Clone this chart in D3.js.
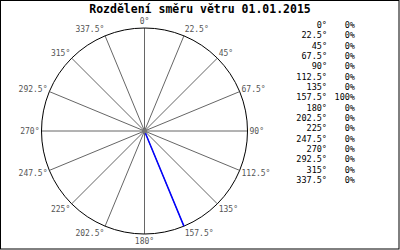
<!DOCTYPE html>
<html>
<head>
<meta charset="utf-8" />
<title>Rozdělení směru větru</title>
<script src="https://d3js.org/d3.v7.min.js"></script>
<style>
  body { margin: 0; background: #fff; }
  text { font-family: "DejaVu Sans Mono", "Liberation Mono", monospace; }
</style>
</head>
<body>
<div id="chart"></div>
<script>
// data
var title = "Rozdělení směru větru 01.01.2015";
var directions = [0, 22.5, 45, 67.5, 90, 112.5, 135, 157.5, 180, 202.5, 225, 247.5, 270, 292.5, 315, 337.5];
var dirLabels = ["0°", "22.5°", "45°", "67.5°", "90°", "112.5°", "135°", "157.5°", "180°", "202.5°", "225°", "247.5°", "270°", "292.5°", "315°", "337.5°"];
var percents = [0, 0, 0, 0, 0, 0, 0, 100, 0, 0, 0, 0, 0, 0, 0, 0];

var W = 400, H = 250;
var cx = 144.5, cy = 131, R = 103;

var svg = d3.select("#chart").append("svg").attr("width", W).attr("height", H);

// frame
svg.append("rect").attr("x", 0.5).attr("y", 0.5).attr("width", W - 1.5).attr("height", H - 1.5)
  .attr("fill", "#fff").attr("stroke", "#000").attr("stroke-width", 1);

svg.append("text").attr("x", 200).attr("y", 13).attr("text-anchor", "middle")
  .attr("font-size", "11.5px").attr("font-weight", "bold").attr("fill", "#000").text(title);

var rScale = d3.scaleLinear().domain([0, 100]).range([0, R]);
var ang = d3.scaleLinear().domain([0, 360]).range([0, 2 * Math.PI]);

function px(a, v) { return cx + rScale(v) * Math.sin(ang(a)); }
function py(a, v) { return cy - rScale(v) * Math.cos(ang(a)); }

var g = svg.append("g");

// spokes
g.selectAll("line.spoke").data(directions).enter().append("line")
  .attr("class", "spoke")
  .attr("x1", cx).attr("y1", cy)
  .attr("x2", function(d) { return px(d, 100); })
  .attr("y2", function(d) { return py(d, 100); })
  .attr("stroke", "#666").attr("stroke-width", 1);

// outer circle
g.append("circle").attr("cx", cx).attr("cy", cy).attr("r", rScale(100))
  .attr("fill", "none").attr("stroke", "#000").attr("stroke-width", 1);

// direction labels
g.selectAll("text.dir").data(directions).enter().append("text")
  .attr("class", "dir")
  .attr("x", function(d) { var s = Math.sin(ang(d)); return px(d, 100) + (Math.abs(s) < 0.01 ? 0 : s * 2); })
  .attr("y", function(d) { return py(d, 100) - Math.cos(ang(d)) * 7 + 3; })
  .attr("text-anchor", function(d) {
    var s = Math.sin(ang(d));
    return Math.abs(s) < 0.01 ? "middle" : (s > 0 ? "start" : "end");
  })
  .attr("font-size", "8px").attr("fill", "#555")
  .text(function(d, i) { return dirLabels[i]; });

// wind direction share
g.selectAll("line.val").data(directions.filter(function(d, i) { return percents[i] > 0; }))
  .enter().append("line")
  .attr("class", "val")
  .attr("x1", cx).attr("y1", cy)
  .attr("x2", function(d) { return px(d, percents[directions.indexOf(d)]); })
  .attr("y2", function(d) { return py(d, percents[directions.indexOf(d)]); })
  .attr("stroke", "#0000ff").attr("stroke-width", 1.5);

// centre dot
g.append("circle").attr("cx", cx).attr("cy", cy).attr("r", 2.5).attr("fill", "#777");

// legend table
var rowY = d3.scalePoint().domain(dirLabels).range([25, 180]);
var leg = svg.append("g").attr("font-size", "8.5px").attr("fill", "#000");
leg.selectAll("text.ang").data(dirLabels).enter().append("text")
  .attr("x", 327).attr("y", function(d) { return rowY(d) + 3; })
  .attr("text-anchor", "end").text(function(d) { return d; });
leg.selectAll("text.pct").data(percents).enter().append("text")
  .attr("x", 355).attr("y", function(d, i) { return rowY(dirLabels[i]) + 3; })
  .attr("text-anchor", "end").text(function(d) { return d + "%"; });
</script>
</body>
</html>
